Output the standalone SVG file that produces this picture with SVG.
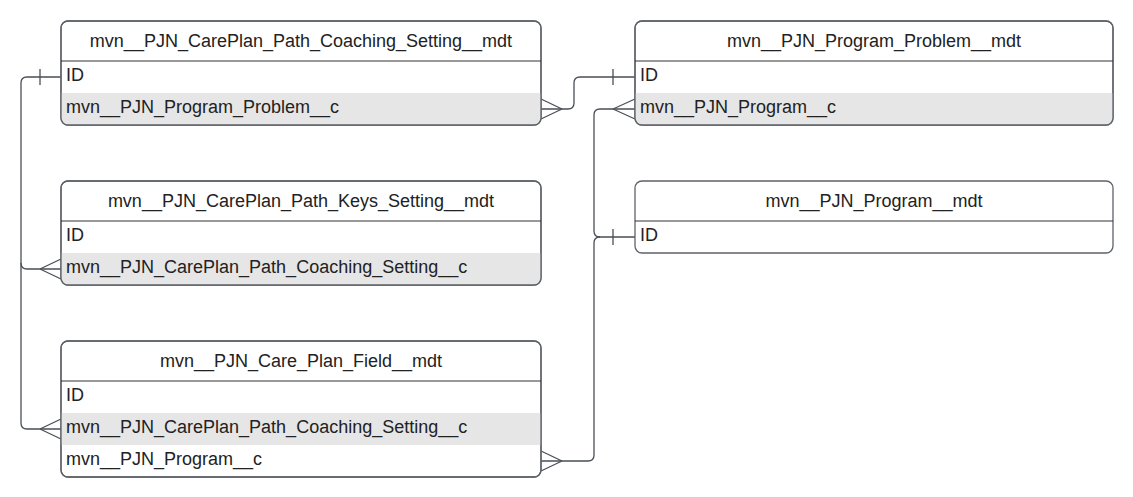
<svg xmlns="http://www.w3.org/2000/svg" width="1133" height="497" viewBox="0 0 1133 497">
<defs>
<style>
.box{fill:#fff;stroke:#5e6269;stroke-width:1.3}
.alt{fill:#e6e6e6}
.sep{stroke:#333;stroke-width:1}
.t{font-family:"Liberation Sans",Arial,sans-serif;font-size:18px;fill:#222}
.h{text-anchor:middle}
.c{fill:none;stroke:#4a4f57;stroke-width:1.3}
</style>
<clipPath id="c1"><rect x="61" y="21" width="480" height="104" rx="7"/></clipPath>
<clipPath id="c2"><rect x="61" y="181" width="480" height="104" rx="7"/></clipPath>
<clipPath id="c3"><rect x="61" y="341" width="480" height="136" rx="7"/></clipPath>
<clipPath id="c4"><rect x="635" y="21" width="478" height="104" rx="7"/></clipPath>
</defs>
<rect width="1133" height="497" fill="#fff"/>

<g id="connectors">
<path class="c" d="M61 77 H27 Q21 77 21 83 V263 Q21 269 27 269 H61"/>
<path class="c" d="M21 263 V423 Q21 429 27 429 H61"/>
<path class="c" d="M40 69 V85"/>
<path class="c" d="M40 269 L61 259 M40 269 L61 279"/>
<path class="c" d="M40 429 L61 419 M40 429 L61 439"/>
<path class="c" d="M541 109 H568 Q574 109 574 103 V83 Q574 77 580 77 H635"/>
<path class="c" d="M562 109 L541 99 M562 109 L541 119"/>
<path class="c" d="M613 69 V85"/>
<path class="c" d="M635 237 H600 Q594 237 594 231 V115 Q594 109 600 109 H635"/>
<path class="c" d="M600 237 Q594 237 594 243 V455 Q594 461 588 461 H541"/>
<path class="c" d="M613 229 V245"/>
<path class="c" d="M613 109 L635 99 M613 109 L635 119"/>
<path class="c" d="M562 461 L541 451 M562 461 L541 471"/>
</g>

<g id="coaching">
<rect class="box" x="61" y="21" width="480" height="104" rx="7"/>
<rect class="alt" x="61" y="93" width="480" height="32" clip-path="url(#c1)"/>
<rect x="61" y="21" width="480" height="104" rx="7" fill="none" stroke="#5e6269" stroke-width="1.3"/>
<line class="sep" x1="61" y1="61" x2="541" y2="61"/>
<text class="t h" x="301" y="47">mvn__PJN_CarePlan_Path_Coaching_Setting__mdt</text>
<text class="t" x="66" y="81">ID</text>
<text class="t" x="66" y="113">mvn__PJN_Program_Problem__c</text>
</g>

<g id="keys">
<rect class="box" x="61" y="181" width="480" height="104" rx="7"/>
<rect class="alt" x="61" y="253" width="480" height="32" clip-path="url(#c2)"/>
<rect x="61" y="181" width="480" height="104" rx="7" fill="none" stroke="#5e6269" stroke-width="1.3"/>
<line class="sep" x1="61" y1="221" x2="541" y2="221"/>
<text class="t h" x="301" y="207">mvn__PJN_CarePlan_Path_Keys_Setting__mdt</text>
<text class="t" x="66" y="241">ID</text>
<text class="t" x="66" y="273">mvn__PJN_CarePlan_Path_Coaching_Setting__c</text>
</g>

<g id="field">
<rect class="box" x="61" y="341" width="480" height="136" rx="7"/>
<rect class="alt" x="61" y="413" width="480" height="32" clip-path="url(#c3)"/>
<rect x="61" y="341" width="480" height="136" rx="7" fill="none" stroke="#5e6269" stroke-width="1.3"/>
<line class="sep" x1="61" y1="381" x2="541" y2="381"/>
<text class="t h" x="301" y="367">mvn__PJN_Care_Plan_Field__mdt</text>
<text class="t" x="66" y="401">ID</text>
<text class="t" x="66" y="433">mvn__PJN_CarePlan_Path_Coaching_Setting__c</text>
<text class="t" x="66" y="465">mvn__PJN_Program__c</text>
</g>

<g id="problem">
<rect class="box" x="635" y="21" width="478" height="104" rx="7"/>
<rect class="alt" x="635" y="93" width="478" height="32" clip-path="url(#c4)"/>
<rect x="635" y="21" width="478" height="104" rx="7" fill="none" stroke="#5e6269" stroke-width="1.3"/>
<line class="sep" x1="635" y1="61" x2="1113" y2="61"/>
<text class="t h" x="874" y="47">mvn__PJN_Program_Problem__mdt</text>
<text class="t" x="640" y="81">ID</text>
<text class="t" x="640" y="113">mvn__PJN_Program__c</text>
</g>

<g id="program">
<rect class="box" x="635" y="181" width="478" height="72" rx="7"/>
<line class="sep" x1="635" y1="221" x2="1113" y2="221"/>
<text class="t h" x="874" y="207">mvn__PJN_Program__mdt</text>
<text class="t" x="640" y="241">ID</text>
</g>
</svg>
